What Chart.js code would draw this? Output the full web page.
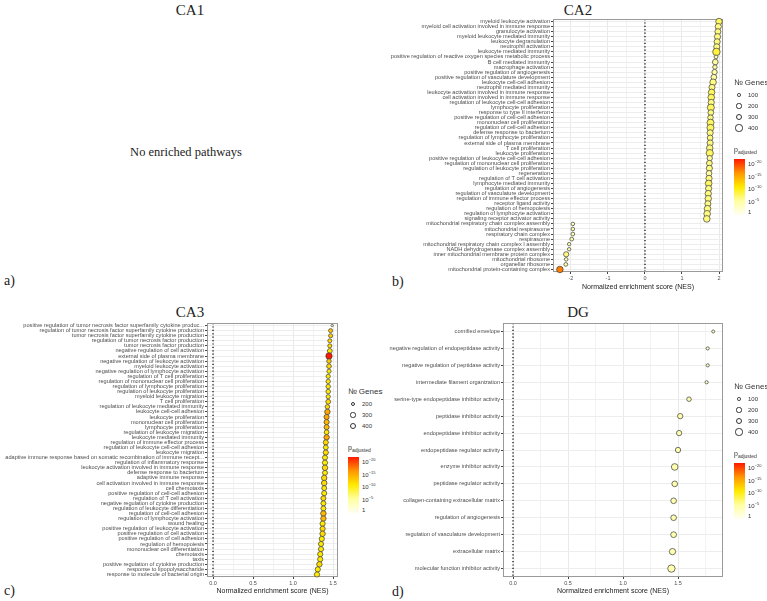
<!DOCTYPE html>
<html>
<head>
<meta charset="utf-8">
<script src="https://cdn.jsdelivr.net/npm/chart.js@4.4.1/dist/chart.umd.min.js"></script>
<style>
  body { margin: 0; background: #fff; }
  #page { position: relative; width: 767px; height: 601px; overflow: hidden; background: #fff; }
  canvas { position: absolute; }
  .serif { position: absolute; font-family: 'Liberation Serif', 'Times New Roman', serif; color: #222; white-space: nowrap; }
  .lg { position: absolute; font-family: 'Liberation Sans', Arial, sans-serif; color: #333; white-space: nowrap; }
  .dot { position: absolute; border: 1px solid #333; border-radius: 50%; box-sizing: border-box; background: #fff; }
  .bar { position: absolute; }
</style>
</head>
<body>
<div id="page">
  <div class="serif" style="left:190px;top:10px;font-size:15px;transform:translate(-50%,-50%)">CA1</div>
  <div class="serif" style="left:578px;top:10px;font-size:15px;transform:translate(-50%,-50%)">CA2</div>
  <div class="serif" style="left:190px;top:312px;font-size:15px;transform:translate(-50%,-50%)">CA3</div>
  <div class="serif" style="left:578px;top:312px;font-size:15px;transform:translate(-50%,-50%)">DG</div>
  <div class="serif" style="left:186px;top:152px;font-size:12.5px;transform:translate(-50%,-50%)">No enriched pathways</div>
  <div class="serif" style="left:4px;top:281px;font-size:14px;transform:translateY(-50%)">a)</div>
  <div class="serif" style="left:392px;top:282px;font-size:14px;transform:translateY(-50%)">b)</div>
  <div class="serif" style="left:4px;top:591px;font-size:14px;transform:translateY(-50%)">c)</div>
  <div class="serif" style="left:392px;top:592px;font-size:14px;transform:translateY(-50%)">d)</div>
  <canvas id="ca2"></canvas>
  <canvas id="ca3"></canvas>
  <canvas id="dg"></canvas>
</div>
<script>
// ---- CA2 ----
const ca2Terms = [
  'myeloid leukocyte activation',
  'myeloid cell activation involved in immune response',
  'granulocyte activation',
  'myeloid leukocyte mediated immunity',
  'leukocyte degranulation',
  'neutrophil activation',
  'leukocyte mediated immunity',
  'positive regulation of reactive oxygen species metabolic process',
  'B cell mediated immunity',
  'macrophage activation',
  'positive regulation of angiogenesis',
  'positive regulation of vasculature development',
  'leukocyte cell-cell adhesion',
  'neutrophil mediated immunity',
  'leukocyte activation involved in immune response',
  'cell activation involved in immune response',
  'regulation of leukocyte cell-cell adhesion',
  'lymphocyte proliferation',
  'response to type II interferon',
  'positive regulation of cell-cell adhesion',
  'mononuclear cell proliferation',
  'regulation of cell-cell adhesion',
  'defense response to bacterium',
  'regulation of lymphocyte proliferation',
  'external side of plasma membrane',
  'T cell proliferation',
  'leukocyte proliferation',
  'positive regulation of leukocyte cell-cell adhesion',
  'regulation of mononuclear cell proliferation',
  'regulation of leukocyte proliferation',
  'regeneration',
  'regulation of T cell activation',
  'lymphocyte mediated immunity',
  'regulation of angiogenesis',
  'regulation of vasculature development',
  'regulation of immune effector process',
  'receptor ligand activity',
  'regulation of hemopoiesis',
  'regulation of lymphocyte activation',
  'signaling receptor activator activity',
  'mitochondrial respiratory chain complex assembly',
  'mitochondrial respirasome',
  'respiratory chain complex',
  'respirasome',
  'mitochondrial respiratory chain complex I assembly',
  'NADH dehydrogenase complex assembly',
  'inner mitochondrial membrane protein complex',
  'mitochondrial ribosome',
  'organellar ribosome',
  'mitochondrial protein-containing complex'
];
const ca2Nes = [2.00, 1.98, 1.97, 1.96, 1.95, 1.94, 1.93, 1.92, 1.90, 1.89,
  1.88, 1.86, 1.84, 1.81, 1.80, 1.79, 1.79, 1.78, 1.78, 1.77,
  1.77, 1.77, 1.76, 1.76, 1.76, 1.75, 1.75, 1.75, 1.74, 1.74,
  1.73, 1.73, 1.72, 1.72, 1.71, 1.71, 1.70, 1.69, 1.68, 1.67,
  -1.95, -1.95, -1.95, -1.98, -2.05, -2.05, -2.13, -2.13, -2.14, -2.30];
const ca2Genes = [330, 300, 280, 300, 290, 290, 430, 110, 250, 150,
  220, 250, 330, 280, 330, 340, 300, 380, 260, 240,
  380, 380, 300, 250, 290, 320, 400, 220, 260, 290,
  250, 300, 340, 300, 310, 320, 280, 340, 340, 340,
  100, 100, 110, 110, 90, 90, 210, 100, 110, 330];
const ca2Padj = [1e-7, 1e-6, 1e-6, 1e-6, 1e-6, 1e-6, 1e-8, 1e-4, 1e-5, 1e-5,
  1e-5, 1e-5, 1e-6, 1e-6, 1e-7, 1e-7, 1e-6, 1e-7, 1e-6, 1e-6,
  1e-7, 1e-7, 1e-6, 1e-6, 1e-6, 1e-6, 1e-7, 1e-5, 1e-6, 1e-6,
  1e-5, 1e-6, 1e-7, 1e-6, 1e-6, 1e-6, 1e-6, 1e-6, 1e-6, 1e-6,
  1e-4, 1e-4, 1e-4, 1e-4, 1e-4, 1e-4, 1e-6, 1e-4, 1e-4, 1e-16];

// ---- CA3 ----
const ca3Terms = [
  'positive regulation of tumor necrosis factor superfamily cytokine produc...',
  'regulation of tumor necrosis factor superfamily cytokine production',
  'tumor necrosis factor superfamily cytokine production',
  'regulation of tumor necrosis factor production',
  'tumor necrosis factor production',
  'negative regulation of cell activation',
  'external side of plasma membrane',
  'negative regulation of leukocyte activation',
  'myeloid leukocyte activation',
  'negative regulation of lymphocyte activation',
  'regulation of T cell proliferation',
  'regulation of mononuclear cell proliferation',
  'regulation of lymphocyte proliferation',
  'regulation of leukocyte proliferation',
  'myeloid leukocyte migration',
  'T cell proliferation',
  'regulation of leukocyte mediated immunity',
  'leukocyte cell-cell adhesion',
  'leukocyte proliferation',
  'mononuclear cell proliferation',
  'lymphocyte proliferation',
  'regulation of leukocyte migration',
  'leukocyte mediated immunity',
  'regulation of immune effector process',
  'regulation of leukocyte cell-cell adhesion',
  'leukocyte migration',
  'adaptive immune response based on somatic recombination of immune recept...',
  'regulation of inflammatory response',
  'leukocyte activation involved in immune response',
  'defense response to bacterium',
  'adaptive immune response',
  'cell activation involved in immune response',
  'cell chemotaxis',
  'positive regulation of cell-cell adhesion',
  'regulation of T cell activation',
  'negative regulation of cytokine production',
  'regulation of leukocyte differentiation',
  'regulation of cell-cell adhesion',
  'regulation of lymphocyte activation',
  'wound healing',
  'positive regulation of leukocyte activation',
  'positive regulation of cell activation',
  'positive regulation of cell adhesion',
  'regulation of hemopoiesis',
  'mononuclear cell differentiation',
  'chemotaxis',
  'taxis',
  'positive regulation of cytokine production',
  'response to lipopolysaccharide',
  'response to molecule of bacterial origin'
];
const ca3Nes = [1.49, 1.47, 1.47, 1.46, 1.46, 1.46, 1.45, 1.45, 1.45, 1.45,
  1.44, 1.44, 1.44, 1.44, 1.44, 1.44, 1.43, 1.43, 1.42, 1.42,
  1.42, 1.42, 1.42, 1.41, 1.41, 1.41, 1.40, 1.40, 1.40, 1.40,
  1.39, 1.39, 1.39, 1.39, 1.38, 1.38, 1.38, 1.38, 1.38, 1.37,
  1.37, 1.37, 1.36, 1.35, 1.35, 1.34, 1.34, 1.33, 1.31, 1.30];
const ca3Genes = [60, 180, 190, 180, 190, 260, 450, 230, 250, 200,
  200, 210, 220, 230, 200, 260, 230, 330, 300, 300,
  290, 250, 330, 290, 260, 300, 280, 300, 330, 280,
  330, 340, 270, 290, 280, 280, 270, 340, 320, 300,
  300, 330, 300, 290, 290, 300, 300, 330, 300, 300];
const ca3Padj = [1e-4, 1e-12, 1e-12, 1e-11, 1e-11, 1e-10, 1e-20, 1e-12, 1e-11, 1e-10,
  1e-10, 1e-10, 1e-10, 1e-10, 1e-10, 1e-11, 1e-11, 1e-14, 1e-14, 1e-13,
  1e-13, 1e-10, 1e-14, 1e-11, 1e-10, 1e-11, 1e-10, 1e-10, 1e-11, 1e-10,
  1e-11, 1e-11, 1e-10, 1e-10, 1e-11, 1e-10, 1e-10, 1e-13, 1e-13, 1e-10,
  1e-11, 1e-11, 1e-10, 1e-10, 1e-10, 1e-10, 1e-10, 1e-11, 1e-10, 1e-10];

// ---- DG ----
const dgTerms = [
  'cornified envelope',
  'negative regulation of endopeptidase activity',
  'negative regulation of peptidase activity',
  'intermediate filament organization',
  'serine-type endopeptidase inhibitor activity',
  'peptidase inhibitor activity',
  'endopeptidase inhibitor activity',
  'endopeptidase regulator activity',
  'enzyme inhibitor activity',
  'peptidase regulator activity',
  'collagen-containing extracellular matrix',
  'regulation of angiogenesis',
  'regulation of vasculature development',
  'extracellular matrix',
  'molecular function inhibitor activity'
];
const dgNes = [1.82, 1.77, 1.77, 1.76, 1.60, 1.52, 1.51, 1.50, 1.47, 1.47, 1.46, 1.46, 1.46, 1.45, 1.44];
const dgGenes = [70, 80, 80, 80, 160, 220, 220, 220, 340, 250, 250, 250, 260, 310, 420];
const dgPadj = [1e-3, 1e-3, 1e-3, 1e-3, 1e-4, 1e-4, 1e-4, 1e-4, 1e-4, 1e-4, 1e-4, 1e-4, 1e-4, 1e-4, 1e-4];

const sizeTicks = [100, 200, 300, 400];
const ca3SizeTicks = [200, 300, 400];

const font = "'Liberation Sans', Arial, sans-serif";
const stops = [[0, [255, 255, 242]], [0.25, [255, 255, 160]], [0.5, [255, 235, 0]], [0.75, [255, 150, 0]], [1, [255, 25, 0]]];

function padjColour(p) {
  const t = Math.min(1, Math.max(0, -Math.log10(p) / 20));
  for (let i = 1; i < stops.length; i++) {
    if (t <= stops[i][0]) {
      const [t0, c0] = stops[i - 1], [t1, c1] = stops[i];
      const f = (t - t0) / (t1 - t0);
      const c = c0.map((v, k) => Math.round(v + (c1[k] - v) * f));
      return `rgb(${c[0]},${c[1]},${c[2]})`;
    }
  }
  return 'rgb(255,25,0)';
}

function radius(g, k) { return k * Math.sqrt(g); }

// dotted line at NES 0 and the panel frame
const frame = {
  id: 'frame',
  beforeDatasetsDraw(chart) {
    const { ctx, chartArea: a, scales: { x } } = chart;
    const x0 = x.getPixelForValue(0);
    ctx.save();
    ctx.strokeStyle = '#111';
    ctx.lineWidth = 1.3;
    ctx.setLineDash([1.2, 2.2]);
    ctx.beginPath();
    ctx.moveTo(x0, a.top);
    ctx.lineTo(x0, a.bottom);
    ctx.stroke();
    ctx.setLineDash([]);
    ctx.strokeStyle = '#9a9a9a';
    ctx.lineWidth = 1;
    ctx.strokeRect(a.left + 0.5, a.top + 0.5, a.right - a.left - 1, a.bottom - a.top - 1);
    ctx.restore();
  }
};

function isMajor(v, step) { return Math.abs(v / step - Math.round(v / step)) < 1e-6; }

function makeChart(id, box, terms, nes, genes, padj, k, xMin, xMax, minor, major, fmt) {
  const cv = document.getElementById(id);
  cv.width = box.w; cv.height = box.h;
  cv.style.left = box.left + 'px'; cv.style.top = box.top + 'px';
  cv.style.width = box.w + 'px'; cv.style.height = box.h + 'px';
  return new Chart(cv, {
    type: 'scatter',
    data: {
      datasets: [{
        data: terms.map((t, i) => ({ x: nes[i], y: t })),
        pointRadius: genes.map(g => radius(g, k)),
        pointBackgroundColor: padj.map(padjColour),
        pointBorderColor: '#3a3a3a',
        pointBorderWidth: 0.7
      }]
    },
    options: {
      responsive: false,
      animation: false,
      events: [],
      layout: { padding: { top: box.pt, right: box.pr, left: 0, bottom: 0 } },
      plugins: { legend: { display: false }, tooltip: { enabled: false } },
      scales: {
        x: {
          type: 'linear', min: xMin, max: xMax,
          afterBuildTicks: s => {
            const t = [];
            for (let i = Math.ceil(xMin / minor - 1e-9); i * minor <= xMax + 1e-9; i++) t.push({ value: Math.round(i * minor * 1000) / 1000 });
            s.ticks = t;
          },
          afterFit: s => { s.height = box.xh; s.paddingLeft = 0; s.paddingRight = 0; },
          border: { display: false },
          grid: {
            color: c => (c.tick && isMajor(c.tick.value, major)) ? '#e9e9e9' : '#f3f3f3',
            tickColor: c => (c.tick && isMajor(c.tick.value, major)) ? '#444' : 'rgba(0,0,0,0)',
            tickLength: 2
          },
          ticks: {
            autoSkip: false, maxRotation: 0, padding: 1.5,
            color: '#4d4d4d', font: { family: font, size: 5.5 },
            callback: v => isMajor(v, major) ? fmt(v) : ''
          },
          title: { display: true, text: 'Normalized enrichment score (NES)', color: '#222', font: { family: font, size: 7 }, padding: 0 }
        },
        y: {
          type: 'category', labels: terms, offset: true,
          afterFit: s => { s.width = box.yw; s.paddingTop = 0; s.paddingBottom = 0; },
          border: { display: false },
          grid: { offset: false, color: '#ededed', tickColor: '#444', tickLength: 2 },
          ticks: { autoSkip: false, padding: 1, color: '#4d4d4d', font: { family: font, size: 5.6 } }
        }
      }
    },
    plugins: [frame]
  });
}

makeChart('ca2', { left: 383, top: 14, w: 352, h: 277, yw: 170, pt: 5, pr: 12, xh: 19 },
  ca2Terms, ca2Nes, ca2Genes, ca2Padj, 0.18, -2.486, 2.108, 0.5, 1, v => String(v));
makeChart('ca3', { left: 0, top: 318, w: 345, h: 277, yw: 207, pt: 5, pr: 7, xh: 18 },
  ca3Terms, ca3Nes, ca3Genes, ca3Padj, 0.15, -0.075, 1.5625, 0.25, 0.5, v => v.toFixed(1));
makeChart('dg', { left: 383, top: 318, w: 352, h: 277, yw: 120, pt: 5, pr: 12, xh: 18 },
  dgTerms, dgNes, dgGenes, dgPadj, 0.18, -0.091, 1.909, 0.25, 0.5, v => v.toFixed(1));

// legends (size key + colour bar)
function legend(left, top, ticks, k) {
  const page = document.getElementById('page');
  let html = `<div class="lg" style="left:${left}px;top:${top - 5}px;font-size:8px">№ Genes</div>`;
  ticks.forEach((g, i) => {
    const r = radius(g, k), y = top + 12 + i * 11;
    html += `<div class="dot" style="left:${left + 5 - r}px;top:${y - r}px;width:${2 * r}px;height:${2 * r}px"></div>`;
    html += `<div class="lg" style="left:${left + 14}px;top:${y - 4}px;font-size:6px;line-height:8px">${g}</div>`;
  });
  const py = top + 12 + (ticks.length - 1) * 11 + 23;
  html += `<div class="lg" style="left:${left}px;top:${py - 5}px;font-size:7px">p<sub style="font-size:5px">adjusted</sub></div>`;
  const by = py + 8, bh = 56;
  const grad = stops.slice().reverse().map(s => `rgb(${s[1].join(',')}) ${(1 - s[0]) * 100}%`).join(',');
  html += `<div class="bar" style="left:${left}px;top:${by}px;width:11px;height:${bh}px;background:linear-gradient(to bottom,${grad})"></div>`;
  const labs = ['10<sup>−20</sup>', '10<sup>−15</sup>', '10<sup>−10</sup>', '10<sup>−5</sup>', '1'];
  labs.forEach((l, i) => {
    const y = by + 3 + i * (bh - 6) / 4;
    html += `<div class="lg" style="left:${left + 14}px;top:${y - 4}px;font-size:6px;line-height:8px">${l.replace('<sup>', '<sup style="font-size:4px">')}</div>`;
  });
  page.insertAdjacentHTML('beforeend', html);
}
legend(734, 83, sizeTicks, 0.18);
legend(348, 392, ca3SizeTicks, 0.15);
legend(734, 387, sizeTicks, 0.18);
</script>
</body>
</html>
